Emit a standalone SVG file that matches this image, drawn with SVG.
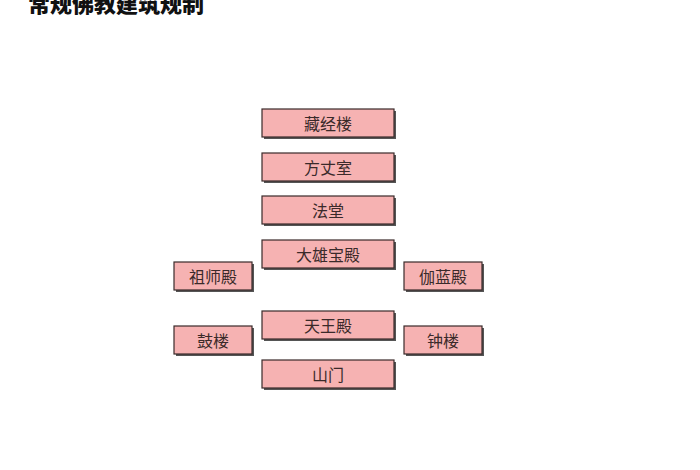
<svg xmlns="http://www.w3.org/2000/svg" width="700" height="470" viewBox="0 0 700 470">
<style>
.b{fill:#f6b2b2;stroke:#3a2a2a;stroke-width:1.2}
.s{fill:#555}
.t{font-family:"Noto Sans CJK SC","Liberation Serif",serif;font-size:16px;fill:#3a2a2a;text-anchor:middle;dominant-baseline:central}
.h{font-family:"Noto Sans CJK SC",sans-serif;font-size:22px;font-weight:900;fill:#111}
</style>
<rect width="700" height="470" fill="#fff"/>
<text class="h" x="28" y="12">常规佛教建筑规制</text>
<g id="n1"><rect class="s" x="264" y="111" width="132" height="28"/><rect class="b" x="262" y="109" width="132" height="28"/><text class="t" x="328" y="123">藏经楼</text></g>
<g id="n2"><rect class="s" x="264" y="155" width="132" height="28"/><rect class="b" x="262" y="153" width="132" height="28"/><text class="t" x="328" y="167">方丈室</text></g>
<g id="n3"><rect class="s" x="264" y="198" width="132" height="28"/><rect class="b" x="262" y="196" width="132" height="28"/><text class="t" x="328" y="210">法堂</text></g>
<g id="n4"><rect class="s" x="264" y="242" width="132" height="28"/><rect class="b" x="262" y="240" width="132" height="28"/><text class="t" x="328" y="254">大雄宝殿</text></g>
<g id="n5"><rect class="s" x="264" y="313" width="132" height="28"/><rect class="b" x="262" y="311" width="132" height="28"/><text class="t" x="328" y="325">天王殿</text></g>
<g id="n6"><rect class="s" x="264" y="362" width="132" height="28"/><rect class="b" x="262" y="360" width="132" height="28"/><text class="t" x="328" y="374">山门</text></g>
<g id="n7"><rect class="s" x="176" y="264" width="78" height="28"/><rect class="b" x="174" y="262" width="78" height="28"/><text class="t" x="213" y="276">祖师殿</text></g>
<g id="n8"><rect class="s" x="406" y="264" width="78" height="28"/><rect class="b" x="404" y="262" width="78" height="28"/><text class="t" x="443" y="276">伽蓝殿</text></g>
<g id="n9"><rect class="s" x="176" y="328" width="78" height="28"/><rect class="b" x="174" y="326" width="78" height="28"/><text class="t" x="213" y="340">鼓楼</text></g>
<g id="n10"><rect class="s" x="406" y="328" width="78" height="28"/><rect class="b" x="404" y="326" width="78" height="28"/><text class="t" x="443" y="340">钟楼</text></g>
<g id="connectors"></g>
</svg>
